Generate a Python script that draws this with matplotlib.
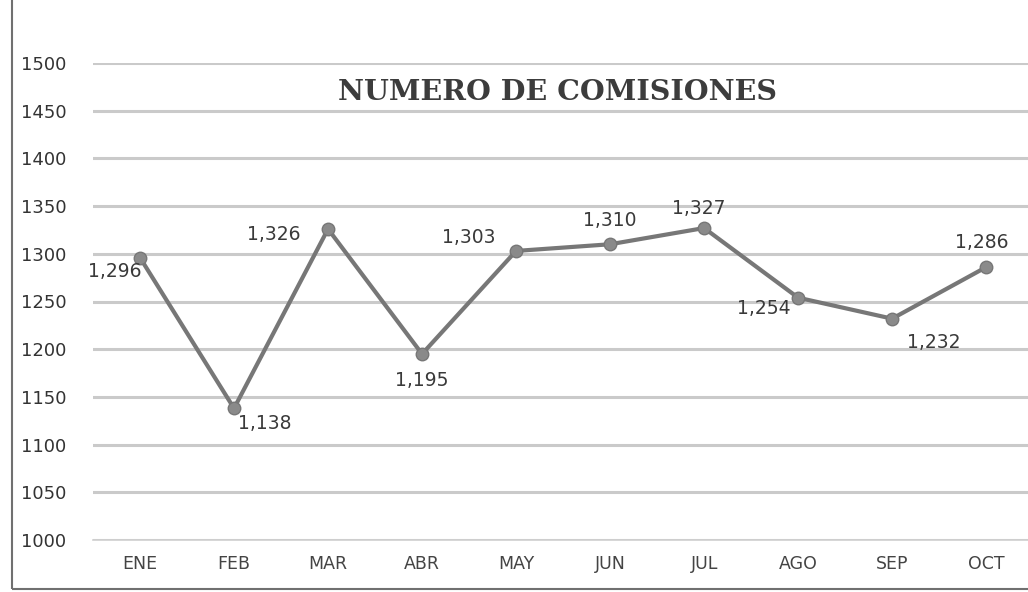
import matplotlib
matplotlib.use("Agg")
import matplotlib.pyplot as plt
from matplotlib.patches import Rectangle

months = ["ENE", "FEB", "MAR", "ABR", "MAY", "JUN", "JUL", "AGO", "SEP", "OCT"]
comisiones = [1296, 1138, 1326, 1195, 1303, 1310, 1327, 1254, 1232, 1286]
y_ticks = [1000, 1050, 1100, 1150, 1200, 1250, 1300, 1350, 1400, 1450, 1500]
label_offsets = [(-18, -10), (22, -11), (-39, -4), (0, -19), (-34, 10),
                 (0, 17), (-4, 14), (-25, -8), (30, -17), (-3, 18)]

plt.rcParams['font.family'] = ['DejaVu Sans']

fig = plt.figure(figsize=(10.28, 5.92), dpi=100)
fig.patch.set_facecolor('white')
ax = fig.add_axes([93/1028, 1-540/592, (1028-93)/1028 + 0.005, (540-63)/592])

x = list(range(len(months)))
ax.plot(x, comisiones, color='#777777', lw=3, marker='o', ms=9,
        markerfacecolor='#8a8a8a', markeredgecolor='#777777', zorder=3)

for xi, v, (dx, dy) in zip(x, comisiones, label_offsets):
    ax.annotate(f"{v:,}", (xi, v), xytext=(dx, dy), textcoords='offset points',
                ha='center', va='center', fontsize=13.5, color='#3a3a3a')

ax.set_xlim(-0.5, len(months) - 0.5)
ax.set_ylim(1000, 1500)
ax.set_yticks(y_ticks)
ax.set_yticklabels([str(t) for t in y_ticks], fontsize=13, color='#333333')
ax.set_xticks(x)
ax.set_xticklabels(months, fontsize=12.5, color='#444444')
ax.tick_params(axis='y', length=0, pad=19)
ax.tick_params(axis='x', length=0, pad=11)
ax.grid(axis='y', color='#cacaca', lw=2.2)
ax.set_axisbelow(True)
for s in ['top', 'right', 'left']:
    ax.spines[s].set_visible(False)
ax.spines['bottom'].set_color('#d0d0d0')
ax.spines['bottom'].set_linewidth(1.2)

fig.text(558/1028, 1-92/592, "NUMERO DE COMISIONES", ha='center', va='center',
         fontsize=20.5, fontweight='bold', color='#3c3c3c', family='DejaVu Serif')

fig.patches.append(Rectangle((12/1028, 1-589/592), 1.1, 2, transform=fig.transFigure,
                             fill=False, edgecolor='#707070', lw=1.5))

fig.savefig("out.png", dpi=100, facecolor='white')
